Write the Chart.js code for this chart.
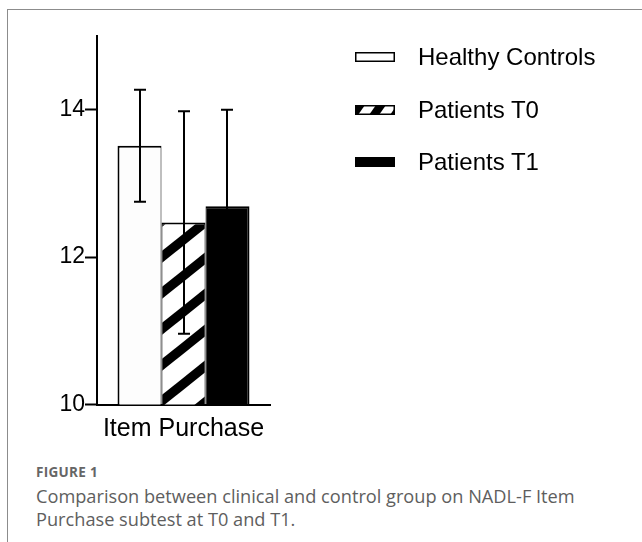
<!DOCTYPE html>
<html>
<head>
<meta charset="utf-8">
<script src="https://cdn.jsdelivr.net/npm/chart.js@4/dist/chart.umd.min.js"></script>
<style>
  html, body { margin: 0; padding: 0; background: #fff; width: 642px; height: 542px; overflow: hidden; }
  #frame { position: absolute; left: 7px; top: 9px; width: 640px; height: 540px;
           border-top: 1px solid #8c8c8c; border-left: 1px solid #8c8c8c; }
  #wrap { position: absolute; left: 0; top: 0; width: 642px; height: 460px; }
  #legend { position: absolute; left: 355px; top: 0; font-family: "Liberation Sans", Arial, sans-serif;
            font-size: 24px; color: #000; }
  .row { position: absolute; left: 0; height: 28px; white-space: nowrap; display: flex; align-items: center; }
  .row canvas { margin-right: 23px; display: block; }
  .cap { position: absolute; left: 36px; font-family: "Open Sans", Lato, sans-serif; color: #5e5e5e; white-space: nowrap; }
  #figno { top: 466px; font-size: 13.5px; line-height: 13px; font-weight: bold; letter-spacing: 0.3px; color: #666; }
  #captext { top: 485px; font-size: 18.2px; line-height: 22.7px; }
</style>
</head>
<body>
<div id="frame"></div>
<div id="wrap"><canvas id="chart"></canvas></div>
<div id="legend"></div>
<div class="cap" id="figno">FIGURE 1</div>
<div class="cap" id="captext">Comparison between clinical and control group on NADL-F Item<br>Purchase subtest at T0 and T1.</div>
<script>
// NADL-F Item Purchase subtest: group means with standard deviations
const categories = ['Item Purchase'];
const seriesLabels = ['Healthy Controls', 'Patients T0', 'Patients T1'];
const healthyMeans = [13.51];
const patientsT0Means = [12.47];
const patientsT1Means = [12.69];
const healthySD = [0.76];
const patientsT0SD = [1.51];
const patientsT1SD = [1.31];
const yTickValues = [10, 12, 14];

const AXIS_FONT = '"Liberation Sans", Arial, sans-serif';

// diagonal hatch tile, stripes rising to the right
function makeHatch() {
  const w = 45, h = 36, s = h / w;
  const c = document.createElement('canvas');
  c.width = w; c.height = h;
  const g = c.getContext('2d');
  g.fillStyle = '#fff';
  g.fillRect(0, 0, w, h);
  g.fillStyle = '#000';
  for (let k = -1; k <= 2; k++) {
    const a = 20.4 + h * k, b = 32.4 + h * k;
    g.beginPath();
    g.moveTo(0, a);
    g.lineTo(w, a - s * w);
    g.lineTo(w, b - s * w);
    g.lineTo(0, b);
    g.closePath();
    g.fill();
  }
  return g.createPattern(c, 'repeat');
}

const errorBars = {
  id: 'errorBars',
  afterDatasetsDraw(chart) {
    const { ctx } = chart;
    const y = chart.scales.y;
    ctx.save();
    ctx.strokeStyle = '#000';
    ctx.lineWidth = 2;
    chart.data.datasets.forEach((ds, i) => {
      const meta = chart.getDatasetMeta(i);
      meta.data.forEach((bar, j) => {
        const v = ds.data[j], e = ds.errors[j];
        const top = y.getPixelForValue(v + e);
        const bot = y.getPixelForValue(v - e);
        const x = Math.round(bar.x);
        ctx.beginPath();
        ctx.moveTo(x, top); ctx.lineTo(x, bot);
        ctx.moveTo(x - 6, top); ctx.lineTo(x + 6, top);
        ctx.moveTo(x - 6, bot); ctx.lineTo(x + 6, bot);
        ctx.stroke();
      });
    });
    ctx.restore();
  }
};

const hatch = makeHatch();

const chart = new Chart(document.getElementById('chart'), {
  type: 'bar',
  data: {
    labels: categories,
    datasets: [
      { label: seriesLabels[0], data: healthyMeans, errors: healthySD,
        backgroundColor: '#fdfdfd', borderColor: '#000',
        borderWidth: { left: 2, top: 2, right: 1, bottom: 0 }, borderSkipped: false },
      { label: seriesLabels[1], data: patientsT0Means, errors: patientsT0SD,
        backgroundColor: hatch, borderColor: '#000',
        borderWidth: { left: 1, top: 2, right: 1, bottom: 0 }, borderSkipped: false },
      { label: seriesLabels[2], data: patientsT1Means, errors: patientsT1SD,
        backgroundColor: '#000', borderColor: '#000',
        borderWidth: { left: 1, top: 2, right: 2, bottom: 0 }, borderSkipped: false }
    ]
  },
  options: {
    responsive: true,
    maintainAspectRatio: false,
    animation: false,
    layout: { padding: { top: 36, right: 372, bottom: 5.5, left: 0 } },
    datasets: { bar: { categoryPercentage: 0.763, barPercentage: 1.0 } },
    plugins: { legend: { display: false }, tooltip: { enabled: false } },
    scales: {
      x: {
        offset: true,
        grid: { display: false, drawTicks: false },
        border: { display: true, color: '#000', width: 2 },
        ticks: { color: '#000', font: { family: AXIS_FONT, size: 25 }, padding: 10 },
        afterFit(s) { s.height = 50; }
      },
      y: {
        min: 10, max: 15,
        afterBuildTicks(s) { s.ticks = yTickValues.map(v => ({ value: v })); },
        grid: { drawOnChartArea: false, drawTicks: true, tickLength: 12, tickColor: '#000', tickWidth: 2 },
        border: { display: true, color: '#000', width: 2 },
        ticks: { color: '#000', font: { family: AXIS_FONT, size: 23 }, padding: 0 },
        afterFit(s) { s.width = 97; }
      }
    }
  },
  plugins: [errorBars]
});

// legend built from the chart's datasets
const legendEl = document.getElementById('legend');
const rowCenters = [57, 110, 162];
chart.data.datasets.forEach((ds, i) => {
  const row = document.createElement('div');
  row.className = 'row';
  row.style.top = (rowCenters[i] - 14) + 'px';
  const sw = document.createElement('canvas');
  sw.width = 40; sw.height = 10;
  const g = sw.getContext('2d');
  if (i === 0) {
    g.fillStyle = '#fff'; g.fillRect(0, 0, 40, 10);
    g.strokeStyle = '#000'; g.lineWidth = 1.5; g.strokeRect(0.75, 0.75, 38.5, 8.5);
  } else if (i === 1) {
    g.fillStyle = '#fff'; g.fillRect(0, 0, 40, 10);
    g.fillStyle = '#000';
    for (let k = -1; k <= 2; k++) {
      const u0 = -7 + 21 * k, u1 = 3 + 21 * k;
      g.beginPath();
      g.moveTo(u0, 10); g.lineTo(u1, 10); g.lineTo(u1 + 7, 0); g.lineTo(u0 + 7, 0);
      g.closePath(); g.fill();
    }
    g.strokeStyle = '#000'; g.lineWidth = 1.5; g.strokeRect(0.75, 0.75, 38.5, 8.5);
  } else {
    g.fillStyle = '#000'; g.fillRect(0, 0, 40, 10);
  }
  row.appendChild(sw);
  const t = document.createElement('span');
  t.textContent = ds.label;
  row.appendChild(t);
  legendEl.appendChild(row);
});
</script>
</body>
</html>
